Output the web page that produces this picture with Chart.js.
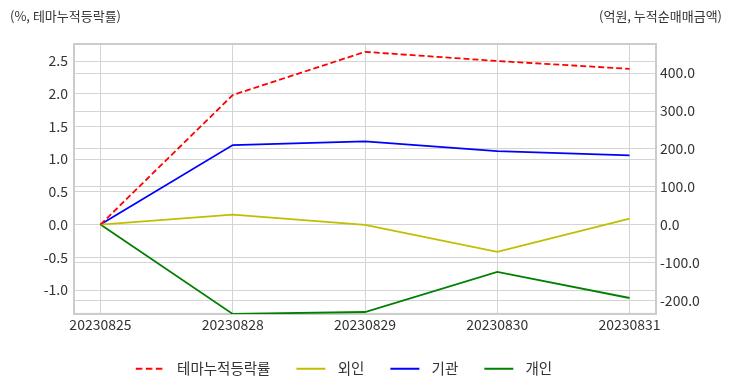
<!DOCTYPE html>
<html>
<head>
<meta charset="utf-8">
<script src="https://cdn.jsdelivr.net/npm/chart.js@4/dist/chart.umd.min.js"></script>
<style>
  html, body { margin: 0; padding: 0; background: #fff; }
  #wrap { position: relative; width: 732px; height: 392px; }
  .cap { position: absolute; top: 6px; font-family: "Noto Sans CJK KR", "Noto Sans", sans-serif; font-size: 13px; color: #333; }
  #capL { left: 10px; }
  #capR { right: 10px; }
</style>
</head>
<body>
<div id="wrap">
  <canvas id="c"></canvas>
  <div class="cap" id="capL">(%, 테마누적등락률)</div>
  <div class="cap" id="capR">(억원, 누적순매매금액)</div>
</div>
<script>
const dates = ["20230825", "20230828", "20230829", "20230830", "20230831"];
const themeRate = [0, 1.98, 2.64, 2.50, 2.38];      // 테마누적등락률 (%)
const foreign = [0, 26, -1, -72, 16];               // 외인 (억원)
const institution = [0, 210, 220, 194, 183];        // 기관 (억원)
const individual = [0, -236, -231, -125, -194];     // 개인 (억원)
const leftTicks = [-1.0, -0.5, 0.0, 0.5, 1.0, 1.5, 2.0, 2.5];
const rightTicks = [-200, -100, 0, 100, 200, 300, 400];

const FONT = "'Noto Sans CJK KR', 'Noto Sans', sans-serif";
const pts = arr => arr.map((v, i) => ({ x: i, y: v }));

// legend line sample: 29px line inside a 40px wide image (extra gaps around it)
function legendLine(color, dash) {
  const c = document.createElement('canvas');
  c.width = 40; c.height = 4;
  const g = c.getContext('2d');
  g.strokeStyle = color;
  g.lineWidth = 2;
  if (dash) g.setLineDash(dash);
  g.beginPath(); g.moveTo(6, 2); g.lineTo(35, 2); g.stroke();
  return c;
}

const frame = {
  id: 'frame',
  beforeDatasetsDraw(chart) {
    const a = chart.chartArea, ctx = chart.ctx;
    ctx.save();
    ctx.strokeStyle = '#cccccc';
    ctx.lineWidth = 2;
    ctx.strokeRect(a.left, a.top, a.right - a.left, a.bottom - a.top);
    ctx.restore();
  }
};

// legend in the reference sits a little left of the canvas centre
const legendShift = {
  id: 'legendShift',
  afterLayout(chart) {
    const l = chart.legend;
    if (l) { l.left -= 25; l.right -= 25; }
  }
};

new Chart(document.getElementById('c'), {
  type: 'line',
  data: {
    datasets: [
      { label: '테마누적등락률', data: pts(themeRate), yAxisID: 'yL', borderColor: '#ff0000', backgroundColor: '#ff0000', borderDash: [6, 3], borderWidth: 1.8, pointRadius: 0, pointStyle: legendLine('#ff0000', [6.5, 3.5]), tension: 0 },
      { label: '외인', data: pts(foreign), yAxisID: 'yR', borderColor: '#bfbf00', backgroundColor: '#bfbf00', borderWidth: 1.8, pointRadius: 0, pointStyle: legendLine('#bfbf00'), tension: 0 },
      { label: '기관', data: pts(institution), yAxisID: 'yR', borderColor: '#0000ff', backgroundColor: '#0000ff', borderWidth: 1.8, pointRadius: 0, pointStyle: legendLine('#0000ff'), tension: 0 },
      { label: '개인', data: pts(individual), yAxisID: 'yR', borderColor: '#008000', backgroundColor: '#008000', borderWidth: 1.8, pointRadius: 0, pointStyle: legendLine('#008000'), tension: 0 }
    ]
  },
  options: {
    responsive: true,
    maintainAspectRatio: false,
    animation: false,
    layout: { padding: { top: 44, bottom: 6, left: 0, right: 0 } },
    plugins: {
      tooltip: { enabled: false },
      legend: {
        position: 'bottom',
        labels: {
          font: { family: FONT, size: 14.5 },
          color: '#333',
          usePointStyle: true,
          pointStyleWidth: 40,
          boxWidth: 40,
          padding: 20
        }
      }
    },
    scales: {
      x: {
        type: 'linear',
        min: -0.2,
        max: 4.2,
        afterBuildTicks: s => { s.ticks = dates.map((d, i) => ({ value: i })); },
        afterFit: s => { s.height = 27.6; },
        ticks: { callback: v => dates[v], font: { family: FONT, size: 14 }, color: '#333', padding: 2, maxRotation: 0 },
        grid: { color: '#d4d4d4', lineWidth: 1, drawTicks: false },
        border: { color: '#cccccc', width: 2 }
      },
      yL: {
        position: 'left',
        min: -1.365,
        max: 2.76,
        afterBuildTicks: s => { s.ticks = leftTicks.map(v => ({ value: v })); },
        afterFit: s => { s.width = 74; },
        ticks: { callback: v => Number(v).toFixed(1), font: { family: FONT, size: 14 }, color: '#333', padding: 6 },
        grid: { color: '#d4d4d4', lineWidth: 1, drawTicks: false },
        border: { color: '#cccccc', width: 2 }
      },
      yR: {
        position: 'right',
        min: -236,
        max: 477,
        afterBuildTicks: s => { s.ticks = rightTicks.map(v => ({ value: v })); },
        afterFit: s => { s.width = 76; },
        ticks: { callback: v => Number(v).toFixed(1), font: { family: FONT, size: 14 }, color: '#333', padding: 4 },
        grid: { color: '#d4d4d4', lineWidth: 1, drawTicks: false },
        border: { color: '#cccccc', width: 2 }
      }
    }
  },
  plugins: [frame, legendShift]
});
</script>
</body>
</html>
